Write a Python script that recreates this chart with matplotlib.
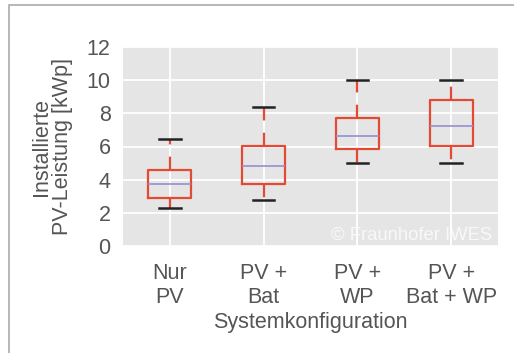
import matplotlib
matplotlib.use("Agg")
import matplotlib.pyplot as plt
from matplotlib.patches import Rectangle

plt.style.use("ggplot")
plt.rcParams["font.family"] = ["Liberation Sans", "DejaVu Sans"]

# Kennwerte je Systemkonfiguration (kWp)
konfigurationen = ["Nur\nPV", "PV +\nBat", "PV +\nWP", "PV +\nBat + WP"]
whisker_unten = [2.3, 2.8, 5.0, 5.0]
quartil_1 = [2.92, 3.72, 5.82, 6.05]
median = [3.75, 4.83, 6.62, 7.21]
quartil_3 = [4.61, 6.04, 7.69, 8.79]
whisker_oben = [6.44, 8.36, 10.0, 10.0]

stats = []
for i in range(len(konfigurationen)):
    stats.append({
        "whislo": whisker_unten[i],
        "q1": quartil_1[i],
        "med": median[i],
        "q3": quartil_3[i],
        "whishi": whisker_oben[i],
        "fliers": [],
    })

fig = plt.figure(figsize=(5.14, 3.53), dpi=100)
fig.patch.set_facecolor("white")
ax = fig.add_axes([123 / 514, 107 / 353, 375 / 514, 199 / 353])

ax.bxp(stats, widths=0.46, showfliers=False,
       boxprops=dict(color="#E24A33", linewidth=1.6),
       whiskerprops=dict(color="#E24A33", linewidth=1.6, linestyle=(0, (6, 5.5))),
       capprops=dict(color="#222222", linewidth=1.8),
       medianprops=dict(color="#988ED5", linewidth=1.2))

ax.set_facecolor("#E5E5E5")
ax.grid(True, color="white", linewidth=1.3)
ax.set_axisbelow(True)
ax.set_xlim(0.5, 4.5)
ax.set_ylim(0, 12)
ax.set_yticks([0, 2, 4, 6, 8, 10, 12])
ax.set_xticks([1, 2, 3, 4])
ax.set_xticklabels(konfigurationen)
ax.tick_params(axis="both", length=0, labelsize=15.5, colors="#555555")
ax.tick_params(axis="y", pad=9)
ax.tick_params(axis="x", pad=12)
for s in ax.spines.values():
    s.set_visible(False)

ax.set_ylabel("Installierte\nPV-Leistung [kWp]", fontsize=15.5, color="#555555",
              linespacing=0.95, labelpad=10)
ax.set_xlabel("Systemkonfiguration", fontsize=15.5, color="#555555", labelpad=3)

ax.text(0.985, 0.055, "© Fraunhofer IWES", transform=ax.transAxes,
        ha="right", va="center", fontsize=13.3, color="white", alpha=0.75)

# Rahmen um die Grafik
fig.patches.append(Rectangle((9 / 514, -0.1), 1.2, (353 - 5) / 353 + 0.1 - 0.0,
                             transform=fig.transFigure, fill=False,
                             edgecolor="#AAAAAA", linewidth=1.2))

fig.savefig("out.png", dpi=100)
